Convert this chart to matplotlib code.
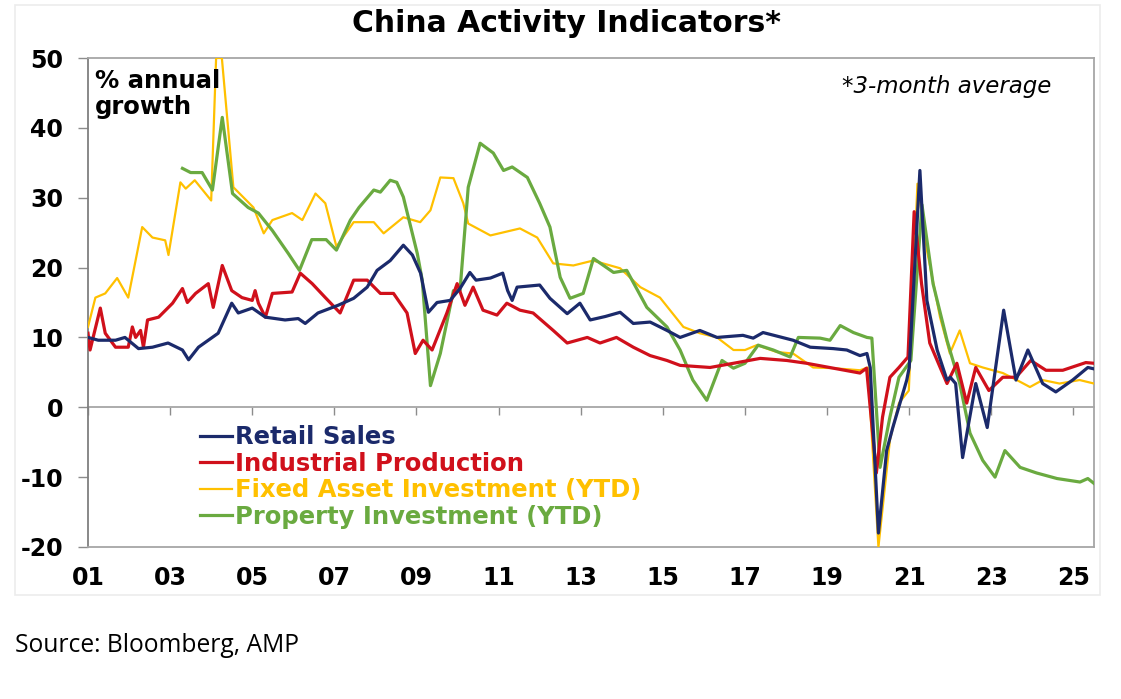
import matplotlib.pyplot as plt
from matplotlib.patches import Rectangle

# decimal years / % annual growth (3-month avg)
retail_x = [2001.0, 2001.25, 2001.67, 2001.9, 2002.23, 2002.57, 2002.95, 2003.3, 2003.45, 2003.69,
            2004.17, 2004.5, 2004.66, 2005.0, 2005.32, 2005.8, 2006.12, 2006.29, 2006.6, 2007.09,
            2007.47, 2007.8, 2008.04, 2008.36, 2008.68, 2008.9, 2009.1, 2009.29, 2009.5, 2009.82,
            2010.06, 2010.3, 2010.45, 2010.8, 2011.1, 2011.22, 2011.33, 2011.45, 2012.0, 2012.25,
            2012.67, 2012.98, 2013.23, 2013.6, 2013.96, 2014.28, 2014.69, 2015.1, 2015.42, 2015.9,
            2016.32, 2016.95, 2017.2, 2017.44, 2018.17, 2018.59, 2019.15, 2019.48, 2019.8, 2019.97,
            2020.05, 2020.25, 2020.45, 2020.6, 2020.94, 2021.0, 2021.26, 2021.43, 2021.68, 2021.92,
            2022.0, 2022.13, 2022.3, 2022.62, 2022.9, 2023.3, 2023.6, 2023.89, 2024.25, 2024.57,
            2024.98, 2025.35, 2025.5]
retail_y = [10, 9.6, 9.6, 10, 8.4, 8.6, 9.2, 8.2, 6.8, 8.6,
            10.6, 14.9, 13.5, 14.2, 12.9, 12.5, 12.7, 12.0, 13.5, 14.6,
            15.6, 17.2, 19.6, 21.0, 23.2, 21.8, 19.2, 13.6, 15.0, 15.3,
            17.0, 19.3, 18.2, 18.5, 19.2, 16.7, 15.3, 17.2, 17.5, 15.6,
            13.4, 14.9, 12.5, 13.0, 13.6, 12.0, 12.2, 11.0, 10.0, 11.0,
            10.0, 10.3, 9.9, 10.7, 9.6, 8.6, 8.4, 8.2, 7.4, 7.7,
            5.7, -18.0, -6.2, -2.9, 3.9, 5.7, 33.9, 15.3, 8.2, 3.9,
            4.3, 3.4, -7.2, 3.4, -2.9, 13.9, 3.9, 8.2, 3.4, 2.2,
            3.9, 5.7, 5.5]

indprod_x = [2001.0, 2001.05, 2001.3, 2001.42, 2001.67, 2001.98, 2002.08, 2002.16, 2002.28, 2002.35,
             2002.45, 2002.72, 2003.06, 2003.3, 2003.42, 2003.62, 2003.93, 2004.05, 2004.27, 2004.5,
             2004.75, 2005.0, 2005.07, 2005.15, 2005.32, 2005.49, 2005.97, 2006.17, 2006.46, 2006.78,
             2007.14, 2007.47, 2007.8, 2008.12, 2008.44, 2008.77, 2008.97, 2009.16, 2009.38, 2009.74,
             2009.99, 2010.18, 2010.38, 2010.62, 2010.96, 2011.2, 2011.52, 2011.84, 2012.33, 2012.67,
             2013.16, 2013.47, 2013.87, 2014.28, 2014.69, 2015.1, 2015.42, 2016.15, 2016.72, 2017.37,
             2018.02, 2018.5, 2019.15, 2019.8, 2019.96, 2020.2, 2020.35, 2020.53, 2020.75, 2020.97,
             2021.12, 2021.3, 2021.5, 2021.92, 2022.16, 2022.4, 2022.62, 2022.94, 2023.28, 2023.6,
             2023.96, 2024.33, 2024.74, 2025.3, 2025.5]
indprod_y = [10.6, 8.2, 14.2, 10.6, 8.6, 8.6, 11.5, 10.0, 11.0, 8.6,
             12.5, 12.9, 14.9, 17.0, 15.0, 16.3, 17.7, 14.3, 20.3, 16.7,
             15.7, 15.3, 16.7, 14.9, 12.9, 16.3, 16.5, 19.2, 17.7, 15.7,
             13.5, 18.2, 18.2, 16.3, 16.3, 13.5, 7.7, 9.6, 8.2, 13.5,
             17.7, 14.6, 17.2, 13.9, 13.2, 14.9, 13.9, 13.5, 11.0, 9.2,
             10.0, 9.2, 10.0, 8.6, 7.4, 6.7, 6.0, 5.7, 6.3, 7.0,
             6.7, 6.3, 5.6, 4.9, 5.6, -9.4, -1.4, 4.3, 5.7, 7.2,
             28.0, 17.7, 9.2, 3.4, 6.3, 0.6, 5.7, 2.4, 4.3, 4.3,
             6.7, 5.3, 5.3, 6.4, 6.3]

fai_x = [2001.0, 2001.18, 2001.42, 2001.71, 2001.98, 2002.32, 2002.57, 2002.88, 2002.96, 2003.25,
         2003.38, 2003.6, 2004.0, 2004.12, 2004.26, 2004.54, 2005.03, 2005.28, 2005.49, 2005.97,
         2006.22, 2006.54, 2006.78, 2007.05, 2007.47, 2007.96, 2008.2, 2008.68, 2009.09, 2009.34,
         2009.58, 2009.9, 2010.14, 2010.26, 2010.8, 2011.52, 2011.94, 2012.33, 2012.82, 2013.3,
         2013.96, 2014.45, 2014.93, 2015.5, 2015.9, 2016.32, 2016.72, 2017.0, 2017.29, 2017.78,
         2018.17, 2018.66, 2019.15, 2019.8, 2019.99, 2020.25, 2020.53, 2020.75, 2020.99, 2021.2,
         2021.43, 2021.75, 2021.99, 2022.23, 2022.48, 2022.79, 2023.28, 2023.62, 2023.94, 2024.25,
         2024.66, 2025.15, 2025.5]
fai_y = [11.5, 15.7, 16.3, 18.5, 15.7, 25.8, 24.3, 23.9, 21.8, 32.2,
         31.3, 32.5, 29.6, 50.0, 50.0, 31.5, 28.6, 24.9, 26.8, 27.8,
         26.8, 30.6, 29.2, 23.0, 26.5, 26.5, 24.9, 27.2, 26.5, 28.2,
         32.9, 32.8, 29.2, 26.3, 24.6, 25.6, 24.3, 20.6, 20.3, 21.0,
         19.9, 17.2, 15.7, 11.5, 10.6, 10.0, 8.2, 8.2, 8.9, 7.9,
         7.7, 5.7, 5.6, 5.3, 5.7, -20.0, -4.7, 0.6, 2.4, 32.0,
         22.5, 12.9, 7.7, 11.0, 6.3, 5.7, 4.9, 3.9, 2.9, 3.9,
         3.4, 3.9, 3.4]

prop_x = [2003.3, 2003.5, 2003.78, 2004.03, 2004.27, 2004.52, 2004.9, 2005.15, 2005.49, 2005.88,
          2006.15, 2006.45, 2006.8, 2007.05, 2007.39, 2007.6, 2007.96, 2008.12, 2008.36, 2008.52,
          2008.68, 2009.02, 2009.14, 2009.34, 2009.58, 2009.9, 2010.06, 2010.26, 2010.55, 2010.87,
          2011.12, 2011.33, 2011.7, 2012.0, 2012.25, 2012.5, 2012.74, 2013.06, 2013.31, 2013.8,
          2014.12, 2014.61, 2015.1, 2015.42, 2015.73, 2016.07, 2016.44, 2016.72, 2017.0, 2017.32,
          2017.69, 2018.1, 2018.3, 2018.83, 2019.07, 2019.32, 2019.64, 2019.97, 2020.09, 2020.29,
          2020.53, 2020.75, 2021.04, 2021.31, 2021.58, 2021.92, 2022.23, 2022.48, 2022.79, 2023.09,
          2023.33, 2023.7, 2024.1, 2024.6, 2025.16, 2025.35, 2025.5]
prop_y = [34.2, 33.6, 33.6, 31.1, 41.5, 30.6, 28.6, 27.8, 25.3, 22.0,
          19.6, 24.0, 24.0, 22.5, 26.8, 28.6, 31.1, 30.8, 32.5, 32.2,
          30.1, 22.0, 18.2, 3.1, 7.7, 16.7, 16.7, 31.5, 37.8, 36.4,
          33.9, 34.4, 32.9, 29.2, 25.8, 18.6, 15.6, 16.3, 21.3, 19.3,
          19.6, 14.3, 11.5, 8.2, 3.9, 1.0, 6.7, 5.6, 6.3, 8.9,
          8.2, 7.2, 10.0, 9.9, 9.6, 11.7, 10.7, 10.0, 9.9, -8.6,
          -1.4, 4.3, 6.7, 29.0, 17.7, 9.6, 3.4, -3.7, -7.6, -10.0,
          -6.2, -8.6, -9.4, -10.2, -10.7, -10.2, -10.9]

year_ticks = list(range(2001, 2026, 2))
year_labels = [f"{y % 100:02d}" for y in year_ticks]

NAVY = "#1b2a6b"
RED = "#d0101b"
YELLOW = "#ffc000"
GREEN = "#6aaa40"

plt.rcParams['font.family'] = ['DejaVu Sans']
plt.rcParams['axes.unicode_minus'] = False

fig = plt.figure(figsize=(11.21, 6.99), dpi=100)
fig.patches.append(Rectangle((15 / 1121, 1 - 595 / 699), 1085 / 1121, 590 / 699,
                             transform=fig.transFigure, fill=False,
                             edgecolor="#ececec", linewidth=1.2))
ax = fig.add_axes([88 / 1121, 1 - 547 / 699, 1006 / 1121, 489 / 699])

ax.plot(retail_x, retail_y, color=NAVY, lw=2.3, label="Retail Sales", zorder=5)
ax.plot(indprod_x, indprod_y, color=RED, lw=2.3, label="Industrial Production", zorder=4)
ax.plot(fai_x, fai_y, color=YELLOW, lw=1.6, label="Fixed Asset Investment (YTD)", zorder=3)
ax.plot(prop_x, prop_y, color=GREEN, lw=2.3, label="Property Investment (YTD)", zorder=3.5)

ax.set_xlim(2001, 2025.5)
ax.set_ylim(-20, 50)
ax.set_yticks(range(-20, 51, 10))
ax.set_xticks(year_ticks)
ax.set_xticklabels(year_labels)
ax.tick_params(axis='x', length=0, pad=14, labelsize=17)
ax.tick_params(axis='y', length=7, width=1, color="#8c8c8c", pad=11, labelsize=17)
for lab in ax.get_xticklabels() + ax.get_yticklabels():
    lab.set_fontweight('bold')
for side in ['top', 'right', 'bottom']:
    ax.spines[side].set_color("#a6a6a6")
    ax.spines[side].set_linewidth(1.3)
ax.spines['left'].set_color("#7f7f7f")
ax.spines['left'].set_linewidth(1.3)

# zero line with the year ticks hanging below it
zero_pos = (0 - ax.get_ylim()[0]) / (ax.get_ylim()[1] - ax.get_ylim()[0])
zero_axis = ax.secondary_xaxis(zero_pos)
zero_axis.set_xticks(year_ticks)
zero_axis.tick_params(direction='out', length=6, width=1, color="#8c8c8c",
                      labelbottom=False, labeltop=False)
zero_axis.spines['bottom'].set_color("#a6a6a6")
zero_axis.spines['bottom'].set_linewidth(1.3)

leg = ax.legend(loc='upper left', bbox_to_anchor=(0.111, 0.249), frameon=False,
                fontsize=17.5, handlelength=1.32, handletextpad=0.12, labelspacing=0.1,
                borderaxespad=0, borderpad=0)
for txt, col in zip(leg.get_texts(), [NAVY, RED, YELLOW, GREEN]):
    txt.set_color(col)
    txt.set_fontweight('bold')

ax.text(0.007, 0.978, "% annual\ngrowth", transform=ax.transAxes, fontsize=17.5,
        fontweight='bold', va='top', ha='left', linespacing=1.1)
ax.text(0.958, 0.941, "*3-month average", transform=ax.transAxes, fontsize=16.5,
        style='italic', va='center', ha='right')

fig.text(567 / 1121, 1 - 23 / 699, "China Activity Indicators*", fontsize=21.5,
         fontweight='bold', ha='center', va='center')
fig.text(15 / 1121, 1 - 645 / 699, "Source: Bloomberg, AMP", fontsize=17.7,
         family=['Open Sans', 'DejaVu Sans'], ha='left', va='center')

fig.savefig("out.png", dpi=100)
